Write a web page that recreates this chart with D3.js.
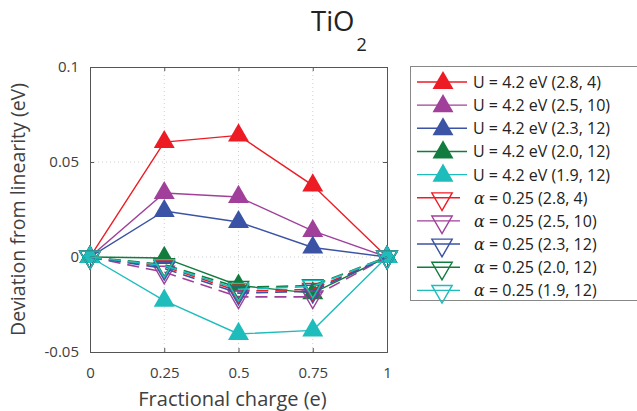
<!DOCTYPE html>
<html><head><meta charset="utf-8">
<script src="https://cdn.jsdelivr.net/npm/d3@7"></script>
<style>body{margin:0;background:#fff}svg{display:block}</style>
</head><body>
<svg id="c" width="637" height="411"></svg>
<script>
// ---- data ----
const fractionalCharge = [0, 0.25, 0.5, 0.75, 1];
const xTicks = [0, 0.25, 0.5, 0.75, 1];
const xTickLabels = ["0", "0.25", "0.5", "0.75", "1"];
const yTicks = [-0.05, 0, 0.05, 0.1];
const yTickLabels = ["-0.05", "0", "0.05", "0.1"];
const seriesNames = ["(2.8, 4)", "(2.5, 10)", "(2.3, 12)", "(2.0, 12)", "(1.9, 12)"];
const seriesColors = ["#ed1c24", "#a0409a", "#3a53a4", "#127c3e", "#1fbcbc"];
const uValues_28_4 = [0, 0.0605, 0.064, 0.0377, 0];
const uValues_25_10 = [0, 0.0337, 0.0316, 0.0137, 0];
const uValues_23_12 = [0, 0.0242, 0.0184, 0.005, 0];
const uValues_20_12 = [0, -0.0005, -0.015, -0.019, 0];
const uValues_19_12 = [0, -0.023, -0.0405, -0.0386, 0];
const aValues_28_4 = [0, -0.005, -0.018, -0.017, 0];
const aValues_25_10 = [0, -0.008, -0.021, -0.021, 0];
const aValues_23_12 = [0, -0.006, -0.019, -0.018, 0];
const aValues_20_12 = [0, -0.004, -0.016, -0.015, 0];
const aValues_19_12 = [0, -0.0045, -0.017, -0.0155, 0];
const uSeries = [uValues_28_4, uValues_25_10, uValues_23_12, uValues_20_12, uValues_19_12];
const aSeries = [aValues_28_4, aValues_25_10, aValues_23_12, aValues_20_12, aValues_19_12];

// ---- layout ----
const svg = d3.select("#c");
const L = 90, R = 387, T = 67, B = 352;
const x = d3.scaleLinear().domain([0, 1]).range([L, R]);
const y = d3.scaleLinear().domain([-0.05, 0.1]).range([B, T]);
const FONT = "'Open Sans', 'Noto Sans', sans-serif";
const TXT = "#404040";

// grid
const g = svg.append("g");
g.selectAll(".gx").data(xTicks.slice(1, -1)).join("line")
  .attr("x1", d => x(d)).attr("x2", d => x(d)).attr("y1", T).attr("y2", B)
  .attr("stroke", "#d0d0d0").attr("stroke-dasharray", "1,3");
g.selectAll(".gy").data(yTicks.slice(1, -1)).join("line")
  .attr("y1", d => y(d)).attr("y2", d => y(d)).attr("x1", L).attr("x2", R)
  .attr("stroke", "#d0d0d0").attr("stroke-dasharray", "1,3");

// axes (inward ticks) + box
const ax = svg.append("g").attr("transform", `translate(0,${B})`)
  .call(d3.axisBottom(x).tickValues(xTicks).tickSize(-4).tickFormat((d, i) => xTickLabels[i]).tickPadding(12));
const ay = svg.append("g").attr("transform", `translate(${L},0)`)
  .call(d3.axisLeft(y).tickValues(yTicks).tickSize(-4).tickFormat((d, i) => yTickLabels[i]).tickPadding(11));
svg.append("g").attr("transform", `translate(0,${T})`)
  .call(d3.axisTop(x).tickValues(xTicks).tickSize(-4).tickFormat(""));
svg.append("g").attr("transform", `translate(${R},0)`)
  .call(d3.axisRight(y).tickValues(yTicks).tickSize(-4).tickFormat(""));
svg.selectAll(".domain").attr("stroke", "#555").attr("stroke-width", 1);
svg.selectAll(".tick line").attr("stroke", "#555");
svg.selectAll(".tick text").attr("font-family", FONT).attr("font-size", 15).attr("fill", TXT);
ax.selectAll(".tick text").attr("dy", "0.95em");

// title
const title = svg.append("text").attr("x", 311).attr("y", 31)
  .attr("font-family", FONT).attr("font-size", 27.5).attr("fill", "#222");
title.append("tspan").text("TiO");
title.append("tspan").attr("font-size", 18).attr("dy", 20).attr("dx", 2).text("2");

// axis labels
svg.append("text").attr("x", (L + R) / 2 - 6).attr("y", 406).attr("text-anchor", "middle")
  .attr("font-family", FONT).attr("font-size", 20).attr("fill", TXT).text("Fractional charge (e)");
svg.append("text").attr("transform", `translate(25,${(T + B) / 2}) rotate(-90)`).attr("text-anchor", "middle")
  .attr("font-family", FONT).attr("font-size", 19.5).attr("fill", TXT).text("Deviation from linearity (eV)");

// series
const line = d3.line().x((d, i) => x(fractionalCharge[i])).y(d => y(d));
const triUp = d3.symbol().type(d3.symbolTriangle).size(190);
const triDn = d3.symbol().type(d3.symbolTriangle).size(180);
const plot = svg.append("g");
uSeries.forEach((vals, k) => {
  const c = seriesColors[k];
  plot.append("path").datum(vals).attr("d", line).attr("fill", "none").attr("stroke", c).attr("stroke-width", 1.4);
  plot.selectAll(null).data(vals).join("path").attr("d", triUp())
    .attr("transform", (d, i) => `translate(${x(fractionalCharge[i])},${y(d)})`).attr("fill", c);
});
aSeries.forEach((vals, k) => {
  const c = seriesColors[k];
  plot.append("path").datum(vals).attr("d", line).attr("fill", "none").attr("stroke", c).attr("stroke-width", 1.6)
    .attr("stroke-dasharray", "12,7");
  plot.selectAll(null).data(vals).join("path").attr("d", triDn())
    .attr("transform", (d, i) => `translate(${x(fractionalCharge[i])},${y(d)}) rotate(180)`)
    .attr("fill", "none").attr("stroke", c).attr("stroke-width", 1.4);
});

// legend
const lg = svg.append("g");
lg.append("rect").attr("x", 410.5).attr("y", 66.5).attr("width", 240).attr("height", 234)
  .attr("fill", "#fff").attr("stroke", "#888");
const rowY = i => 82 + i * 23.15;
uSeries.forEach((v, k) => {
  const yy = rowY(k), c = seriesColors[k];
  lg.append("line").attr("x1", 417).attr("x2", 467).attr("y1", yy).attr("y2", yy).attr("stroke", c).attr("stroke-width", 1.4);
  lg.append("path").attr("d", triUp()).attr("transform", `translate(443,${yy + 1})`).attr("fill", c);
  lg.append("text").attr("x", 473).attr("y", yy + 6).attr("font-family", FONT).attr("font-size", 16).attr("fill", "#222")
    .text("U = 4.2 eV " + seriesNames[k]);
});
aSeries.forEach((v, k) => {
  const yy = rowY(k + 5), c = seriesColors[k];
  lg.append("line").attr("x1", 417).attr("x2", 460).attr("y1", yy).attr("y2", yy).attr("stroke", c).attr("stroke-width", 1.4);
  lg.append("path").attr("d", triDn()).attr("transform", `translate(442,${yy + 1}) rotate(180)`)
    .attr("fill", "none").attr("stroke", c).attr("stroke-width", 1.4);
  const t = lg.append("text").attr("x", 474).attr("y", yy + 6).attr("font-family", FONT).attr("font-size", 16).attr("fill", "#222");
  t.append("tspan").attr("font-family", "'DejaVu Serif', serif").attr("font-style", "italic").text("α");
  t.append("tspan").text(" = 0.25 " + seriesNames[k]);
});
</script>
</body></html>
